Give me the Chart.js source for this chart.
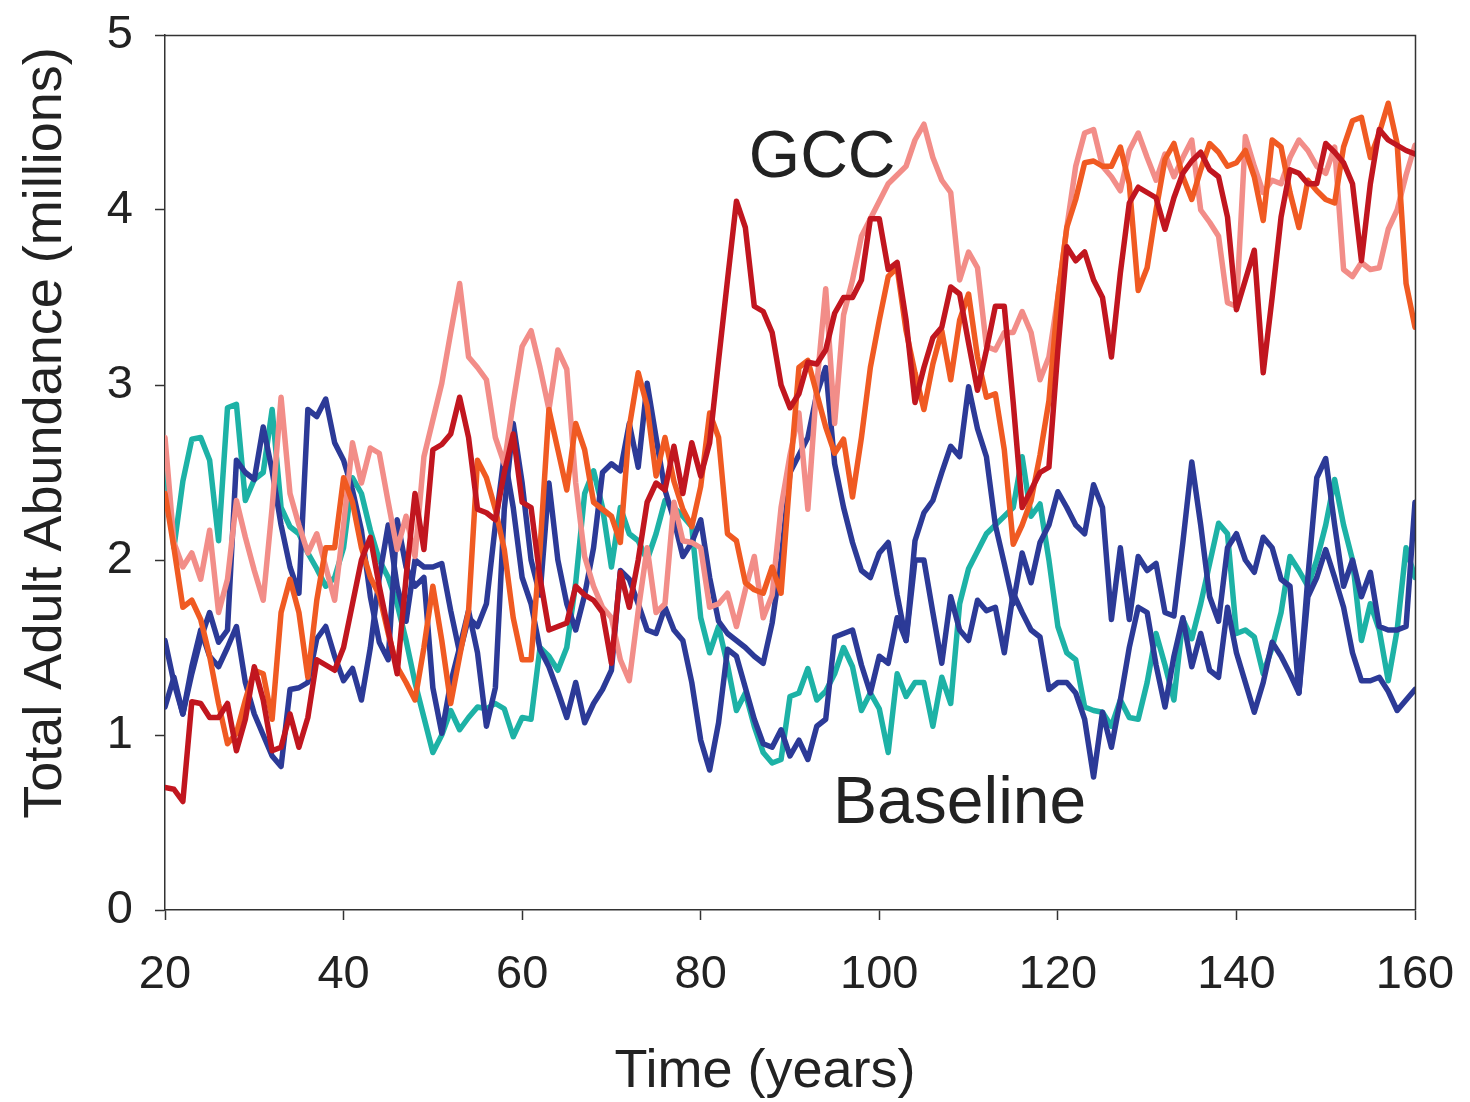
<!DOCTYPE html>
<html>
<head>
<meta charset="utf-8">
<script src="https://cdn.jsdelivr.net/npm/chart.js@4.4.1/dist/chart.umd.min.js"></script>
<style>
html,body{margin:0;padding:0;background:#fff;}
#wrap{width:1470px;height:1102px;position:relative;}
</style>
</head>
<body>
<div id="wrap"><canvas id="c"></canvas></div>
<script>
const years = [20,21,22,23,24,25,26,27,28,29,30,31,32,33,34,35,36,37,38,39,
40,41,42,43,44,45,46,47,48,49,50,51,52,53,54,55,56,57,58,59,
60,61,62,63,64,65,66,67,68,69,70,71,72,73,74,75,76,77,78,79,
80,81,82,83,84,85,86,87,88,89,90,91,92,93,94,95,96,97,98,99,
100,101,102,103,104,105,106,107,108,109,110,111,112,113,114,115,116,117,118,119,
120,121,122,123,124,125,126,127,128,129,130,131,132,133,134,135,136,137,138,139,
140,141,142,143,144,145,146,147,148,149,150,151,152,153,154,155,156,157,158,159,160];

const gccDarkRed = [0.70,0.69,0.62,1.19,1.18,1.10,1.10,1.18,0.91,1.09,
1.39,1.20,0.91,0.93,1.12,0.93,1.10,1.43,1.40,1.37,
1.50,1.75,2.00,2.13,1.85,1.60,1.35,1.90,2.38,2.06,
2.63,2.66,2.72,2.93,2.70,2.29,2.27,2.23,2.50,2.72,
2.33,2.30,1.90,1.60,1.62,1.64,1.85,1.80,1.77,1.70,
1.41,1.93,1.73,2.00,2.33,2.44,2.40,2.65,2.38,2.67,
2.48,2.67,3.14,3.60,4.05,3.90,3.45,3.42,3.30,3.00,
2.87,2.95,3.13,3.12,3.20,3.41,3.50,3.50,3.60,3.95,
3.95,3.66,3.70,3.37,2.90,3.10,3.27,3.33,3.56,3.52,
3.24,2.97,3.20,3.45,3.45,2.90,2.30,2.40,2.50,2.53,
3.20,3.79,3.71,3.76,3.60,3.50,3.16,3.64,4.04,4.13,
4.10,4.07,3.89,4.07,4.21,4.28,4.33,4.23,4.19,3.96,
3.43,3.60,3.77,3.07,3.50,3.96,4.23,4.21,4.15,4.15,
4.38,4.33,4.27,4.15,3.71,4.15,4.46,4.40,4.37,4.34,4.32];

const gccPink = [2.70,2.10,1.96,2.04,1.89,2.17,1.70,1.89,2.34,2.13,
1.94,1.77,2.30,2.93,2.38,2.20,2.04,2.15,1.96,1.77,
2.20,2.67,2.44,2.64,2.61,2.33,2.06,2.25,2.02,2.59,
2.80,3.01,3.30,3.58,3.16,3.10,3.03,2.70,2.55,2.90,
3.22,3.31,3.10,2.86,3.20,3.09,2.44,2.02,1.85,1.73,
1.67,1.43,1.31,1.71,2.07,1.70,1.75,2.33,2.11,2.10,
2.07,1.73,1.75,1.81,1.62,1.83,2.02,1.67,1.80,2.30,
2.60,2.84,2.29,3.00,3.55,2.78,3.40,3.60,3.85,3.95,
4.05,4.15,4.20,4.25,4.40,4.49,4.30,4.17,4.10,3.60,
3.76,3.67,3.22,3.20,3.30,3.30,3.42,3.30,3.03,3.16,
3.50,3.90,4.25,4.44,4.46,4.25,4.19,4.11,4.34,4.44,
4.30,4.17,4.32,4.19,4.30,4.40,4.00,3.93,3.85,3.47,
3.45,4.42,4.25,4.10,4.17,4.15,4.30,4.40,4.34,4.25,
4.21,4.36,3.66,3.62,3.70,3.66,3.67,3.89,4.00,4.20,4.37];

const gccOrange = [2.38,2.07,1.73,1.77,1.66,1.45,1.18,0.95,1.01,1.20,
1.37,1.35,1.09,1.70,1.89,1.70,1.33,1.77,2.07,2.07,
2.47,2.33,2.07,1.90,1.80,1.58,1.39,1.30,1.20,1.50,
1.85,1.54,1.18,1.45,1.71,2.57,2.47,2.29,2.06,1.67,
1.43,1.43,2.06,2.86,2.63,2.40,2.78,2.63,2.33,2.29,
2.25,2.10,2.76,3.07,2.88,2.48,2.70,2.45,2.29,2.19,
2.42,2.84,2.70,2.15,2.11,1.87,1.83,1.81,1.96,1.81,
2.48,3.10,3.14,2.95,2.76,2.61,2.69,2.36,2.70,3.10,
3.37,3.62,3.67,3.31,3.07,2.86,3.12,3.31,3.03,3.37,
3.52,3.16,2.93,2.95,2.63,2.09,2.20,2.34,2.60,2.91,
3.50,3.90,4.06,4.27,4.28,4.25,4.25,4.36,4.15,3.54,
3.67,4.00,4.29,4.38,4.19,4.06,4.23,4.38,4.33,4.25,
4.27,4.34,4.19,3.94,4.40,4.36,4.10,3.90,4.17,4.11,
4.06,4.04,4.36,4.51,4.53,4.30,4.44,4.61,4.38,3.58,3.33];

const baseTeal = [2.59,2.07,2.45,2.69,2.70,2.57,2.11,2.87,2.89,2.34,
2.46,2.50,2.86,2.30,2.19,2.15,2.04,1.95,1.85,1.90,
2.07,2.47,2.38,2.17,2.00,1.90,1.75,1.54,1.30,1.10,
0.90,1.00,1.14,1.03,1.10,1.16,1.15,1.18,1.15,0.99,
1.10,1.09,1.50,1.45,1.37,1.50,1.87,2.38,2.51,2.30,
1.96,2.30,2.15,2.11,2.00,2.15,2.34,2.30,2.25,2.19,
1.67,1.47,1.62,1.40,1.14,1.24,1.05,0.90,0.84,0.86,
1.22,1.24,1.38,1.20,1.25,1.35,1.50,1.39,1.14,1.24,
1.15,0.90,1.35,1.22,1.30,1.30,1.05,1.33,1.18,1.75,
1.95,2.05,2.15,2.20,2.25,2.30,2.59,2.25,2.32,2.00,
1.62,1.47,1.43,1.16,1.14,1.13,1.05,1.20,1.10,1.09,
1.30,1.58,1.40,1.20,1.66,1.55,1.75,1.98,2.21,2.15,
1.58,1.60,1.56,1.35,1.50,1.70,2.02,1.94,1.85,2.00,
2.20,2.46,2.20,2.00,1.54,1.75,1.60,1.31,1.60,2.07,1.90];

const baseBlueA = [1.54,1.30,1.12,1.35,1.55,1.70,1.53,1.60,2.57,2.50,
2.46,2.76,2.51,2.20,1.96,1.81,2.86,2.82,2.92,2.67,
2.57,2.40,2.17,1.79,1.53,1.43,2.23,1.96,1.85,1.90,
1.27,1.01,1.30,1.50,1.71,1.47,1.05,1.27,2.29,2.78,
2.44,2.00,1.80,2.44,2.00,1.75,1.60,1.80,2.07,2.50,
2.55,2.51,2.78,2.53,3.01,2.70,2.40,2.23,2.02,2.10,
2.23,1.90,1.65,1.58,1.54,1.50,1.45,1.41,1.64,2.00,
2.50,2.60,2.70,2.95,3.10,2.55,2.30,2.10,1.94,1.90,
2.04,2.10,1.80,1.54,2.11,2.27,2.34,2.50,2.65,2.59,
2.99,2.75,2.59,2.20,1.98,1.75,2.04,1.87,2.10,2.20,
2.39,2.30,2.20,2.15,2.43,2.30,1.66,2.07,1.66,2.02,
1.94,1.98,1.70,1.68,2.10,2.56,2.20,1.79,1.65,2.07,
2.15,2.00,1.93,2.13,2.07,1.89,1.85,1.24,1.90,2.47,
2.58,2.20,1.85,2.00,1.79,1.93,1.62,1.60,1.60,1.62,2.33];

const baseBlueB = [1.16,1.33,1.12,1.39,1.60,1.45,1.39,1.50,1.62,1.30,
1.12,1.00,0.88,0.82,1.26,1.27,1.30,1.55,1.62,1.45,
1.31,1.38,1.20,1.50,1.90,2.20,1.85,1.65,2.00,1.96,
1.96,1.98,1.71,1.47,1.67,1.62,1.75,2.20,2.60,2.30,
1.90,1.75,1.49,1.39,1.25,1.10,1.30,1.07,1.18,1.26,
1.37,1.94,1.89,1.75,1.60,1.58,1.73,1.60,1.54,1.30,
0.97,0.80,1.07,1.49,1.45,1.27,1.09,0.95,0.93,1.03,
0.88,0.97,0.86,1.05,1.09,1.56,1.58,1.60,1.40,1.24,
1.45,1.41,1.67,1.54,2.00,2.00,1.70,1.41,1.79,1.60,
1.54,1.77,1.71,1.73,1.47,1.81,1.70,1.60,1.56,1.26,
1.30,1.30,1.24,1.09,0.76,1.13,0.93,1.20,1.50,1.73,
1.70,1.40,1.16,1.45,1.67,1.39,1.58,1.37,1.33,1.73,
1.47,1.30,1.13,1.30,1.53,1.45,1.35,1.24,1.79,1.90,
2.06,1.90,1.73,1.47,1.31,1.31,1.33,1.25,1.14,1.20,1.26];

const xTicks = [20,40,60,80,100,120,140,160];
const yTicks = [0,1,2,3,4,5];
const xTitle = 'Time (years)';
const yTitle = 'Total Adult Abundance (millions)';
const notes = [
  {text:'GCC', year:93.6, value:4.29},
  {text:'Baseline', year:109.0, value:0.60}
];

const series = [
  {name:'GCC 3', values:gccDarkRed, color:'#C1161F'},
  {name:'GCC 2', values:gccOrange, color:'#F05A22'},
  {name:'GCC 1', values:gccPink, color:'#F28D88'},
  {name:'Baseline 3', values:baseBlueA, color:'#2C3A97'},
  {name:'Baseline 2', values:baseBlueB, color:'#2C3A97'},
  {name:'Baseline 1', values:baseTeal, color:'#1DB2A6'}
];

const FONT = '"Liberation Sans", Arial, sans-serif';
const TXT = '#222222';

const notePlugin = {
  id:'notes',
  afterDatasetsDraw(chart){
    const {ctx, scales:{x,y}} = chart;
    ctx.save();
    ctx.fillStyle = TXT;
    ctx.font = '66px ' + FONT;
    ctx.textAlign = 'center';
    ctx.textBaseline = 'middle';
    notes.forEach(n => ctx.fillText(n.text, x.getPixelForValue(n.year), y.getPixelForValue(n.value)));
    ctx.restore();
  }
};

const titlePlugin = {
  id:'axisTitles',
  afterDraw(chart){
    const {ctx} = chart;
    ctx.save();
    ctx.fillStyle = TXT;
    ctx.font = '54px ' + FONT;
    ctx.textAlign = 'center';
    ctx.textBaseline = 'alphabetic';
    ctx.fillText(xTitle, 765, 1087);
    ctx.translate(61, 433);
    ctx.rotate(-Math.PI/2);
    ctx.fillText(yTitle, 0, 0);
    ctx.restore();
  }
};

const framePlugin = {
  id:'frame',
  afterDraw(chart){
    const {ctx, chartArea:a} = chart;
    ctx.save();
    ctx.strokeStyle = '#333';
    ctx.lineWidth = 1.5;
    ctx.beginPath();
    ctx.moveTo(a.left, a.top + 0.5);
    ctx.lineTo(a.right + 0.5, a.top + 0.5);
    ctx.lineTo(a.right + 0.5, a.bottom);
    ctx.stroke();
    ctx.restore();
  }
};

new Chart(document.getElementById('c'), {
  type:'line',
  data:{
    datasets: series.map(s => ({
      label:s.name,
      data: years.map((yr,i)=>({x:yr, y:s.values[i]})),
      borderColor:s.color,
      backgroundColor:s.color,
      borderWidth:5.5,
      pointRadius:0,
      tension:0,
      borderJoinStyle:'round',
      borderCapStyle:'round',
      fill:false
    }))
  },
  options:{
    responsive:true,
    maintainAspectRatio:false,
    animation:false,
    layout:{padding:{left:0, right:55, top:35, bottom:0}},
    plugins:{legend:{display:false}, tooltip:{enabled:false}},
    scales:{
      x:{
        type:'linear', min:20, max:160,
        afterBuildTicks(s){ s.ticks = xTicks.map(v=>({value:v})); },
        afterFit(s){ s.height = 192; s.paddingLeft = 0; s.paddingRight = 0; },
        grid:{drawOnChartArea:false, drawTicks:true, tickLength:10, color:'#333', tickWidth:1.5},
        border:{display:true, color:'#333', width:1.5},
        ticks:{color:TXT, font:{family:FONT, size:47}, padding:27, maxRotation:0},
        title:{display:false}
      },
      y:{
        type:'linear', min:0, max:5,
        afterBuildTicks(s){ s.ticks = yTicks.map(v=>({value:v})); },
        afterFit(s){ s.width = 165; s.paddingTop = 0; s.paddingBottom = 0; },
        grid:{drawOnChartArea:false, drawTicks:true, tickLength:10, color:'#333', tickWidth:1.5},
        border:{display:true, color:'#333', width:1.5},
        ticks:{color:TXT, font:{family:FONT, size:47}, padding:22},
        title:{display:false}
      }
    }
  },
  plugins:[notePlugin, titlePlugin, framePlugin]
});
</script>
</body>
</html>
